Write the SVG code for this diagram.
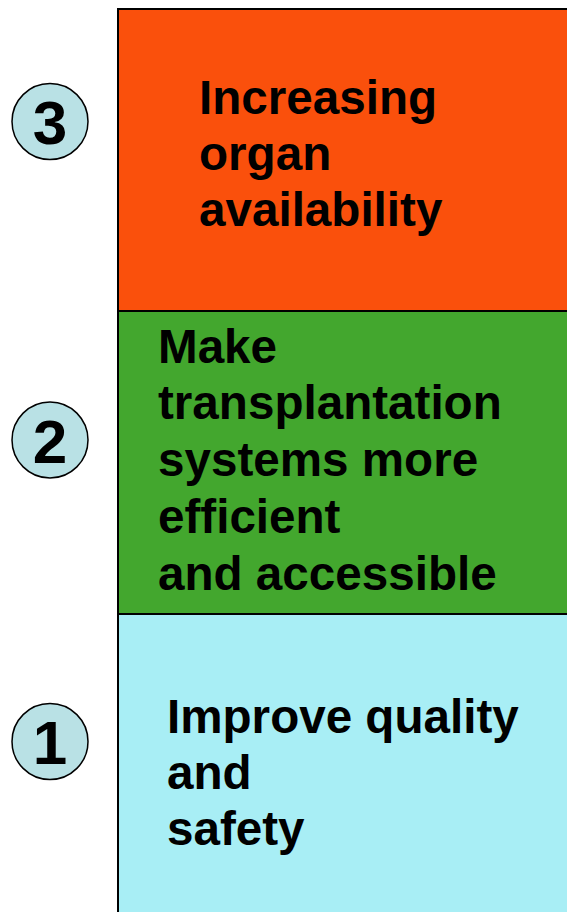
<svg xmlns="http://www.w3.org/2000/svg" width="567" height="912" viewBox="0 0 567 912">
<style>
.band{stroke:#000;stroke-width:2}
.lbl{font-family:"Liberation Sans",Arial,sans-serif;font-weight:bold;font-size:47.6px;fill:#000}
.num{fill:#b9e1e5;stroke:#000;stroke-width:1.5}
.digit{font-family:"Liberation Sans",Arial,sans-serif;font-weight:bold;font-size:62px;fill:#000;text-anchor:middle}
</style>
<rect width="567" height="912" fill="#fff"/>
<g id="level3">
<rect class="band" x="118" y="9" width="460" height="302" fill="#fa500c"/>
<text class="lbl"><tspan x="199" y="114">Increasing</tspan><tspan x="199" y="170">organ</tspan><tspan x="199" y="226">availability</tspan></text>
</g>
<g id="level2">
<rect class="band" x="118" y="311" width="460" height="303" fill="#43a72e"/>
<text class="lbl"><tspan x="158" y="363">Make</tspan><tspan x="158" y="419">transplantation</tspan><tspan x="158" y="476">systems more</tspan><tspan x="158" y="533">efficient</tspan><tspan x="158" y="590">and accessible</tspan></text>
</g>
<g id="level1">
<rect class="band" x="118" y="614" width="460" height="310" fill="#a8eef5"/>
<text class="lbl"><tspan x="167" y="733">Improve quality</tspan><tspan x="167" y="789">and</tspan><tspan x="167" y="845">safety</tspan></text>
</g>
<g id="badge3">
<circle class="num" cx="50" cy="121.5" r="38"/>
<text class="digit" x="50" y="144">3</text>
</g>
<g id="badge2">
<circle class="num" cx="50" cy="440" r="38"/>
<text class="digit" x="50" y="462.5">2</text>
</g>
<g id="badge1">
<circle class="num" cx="50" cy="741.5" r="38"/>
<text class="digit" x="50" y="764">1</text>
</g>
<g id="connectors"/>
</svg>
